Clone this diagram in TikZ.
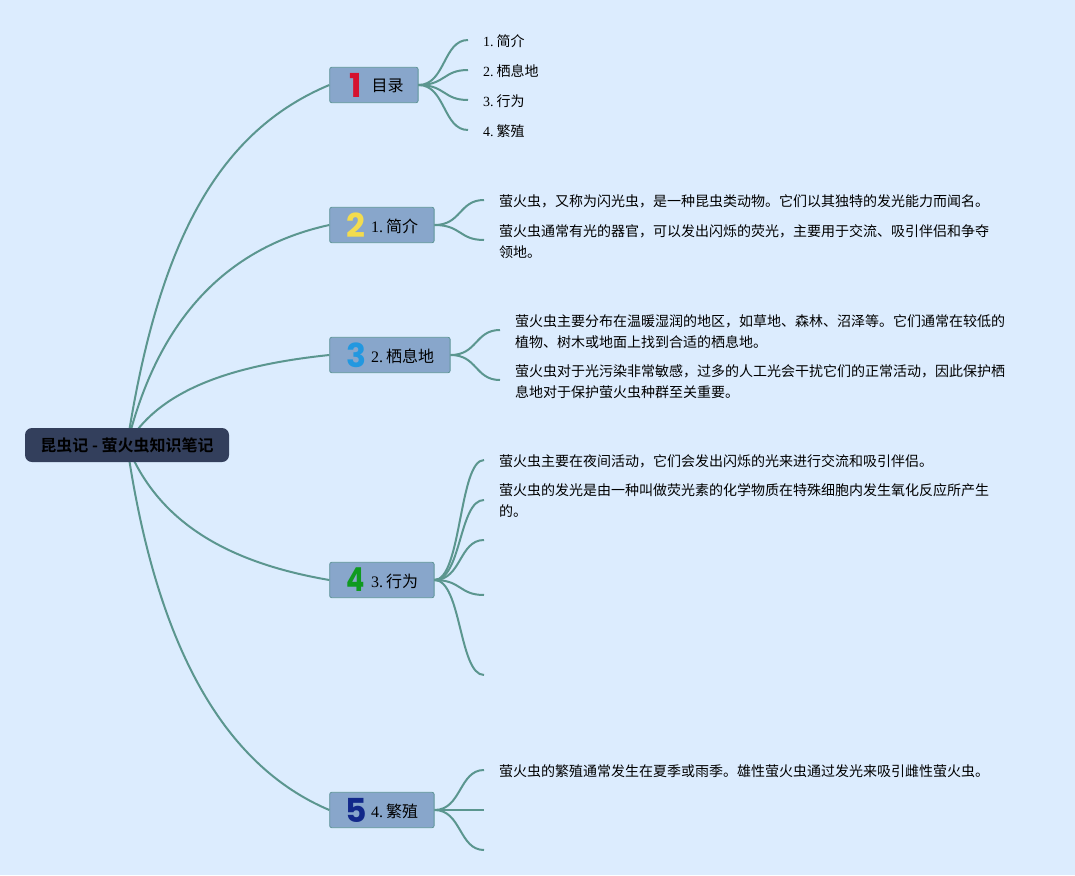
\documentclass[tikz,border=0pt]{standalone}
\usepackage{fontspec}
\usetikzlibrary{calc}
\setmainfont{Liberation Serif}
\newfontfamily\zhf{Noto Sans CJK SC}
\newfontfamily\zhbf{Noto Sans CJK SC}[BoldFont={Noto Sans CJK SC Bold}]
\newfontfamily\iconf{Poppins}
\newcommand{\zh}[1]{{\zhf #1}}
\newcommand{\tsp}{\hspace{3pt}}
\definecolor{bgc}{HTML}{DCECFE}
\definecolor{linec}{HTML}{5B968F}
\definecolor{boxc}{HTML}{88A6CB}
\definecolor{boxl}{HTML}{5F9598}
\definecolor{rootc}{HTML}{333F5C}
\definecolor{ired}{HTML}{D5122F}
\definecolor{iyel}{HTML}{F3DC4E}
\definecolor{iblu}{HTML}{2298E0}
\definecolor{igrn}{HTML}{0F9A1F}
\definecolor{inav}{HTML}{12288A}
\tikzset{
  topicbox/.style={draw=boxl,line width=0.8pt,fill=boxc,rounded corners=2pt,inner sep=0pt,minimum height=35.4pt,anchor=west,text=black,font=\fontsize{16}{20}\selectfont},
  rootbox/.style={fill=rootc,rounded corners=7pt,inner sep=0pt,minimum height=34pt,minimum width=204pt,text=black,font=\fontsize{16}{20}\selectfont\bfseries},
  icontext/.style={inner sep=0pt,font=\fontsize{33}{33}\iconf\bfseries},
  toptext/.style={inner sep=0pt,anchor=west,text=black,font=\fontsize{16}{20}\selectfont},
  leaftext/.style={inner sep=0pt,anchor=west,align=left,text=black,font=\fontsize{14}{21}\selectfont},
  tocitem/.style={inner sep=0pt,anchor=west,text=black,font=\fontsize{14}{21}\selectfont},
  mainline/.style={draw=linec,line width=2pt},
  subline/.style={draw=linec,line width=2pt},
}
\newcommand{\subl}[2]{\draw[subline] (#1.east) .. controls ($(#1.east)+(27,0)$) and ($(#2)+(-25,0)$) .. (#2);}
\begin{document}
\begin{tikzpicture}[x=1pt,y=-1pt]
\useasboundingbox (0,0) rectangle (1075,875);
\fill[bgc] (0,0) rectangle (1075,875);
% positions
\coordinate (rt) at (127,445);
\node[topicbox,minimum width=88.4pt] (n1) at (329.3,85) {};
\node[topicbox,minimum width=104.4pt] (n2) at (329.3,225) {};
\node[topicbox,minimum width=120.4pt] (n3) at (329.3,355) {};
\node[topicbox,minimum width=104.4pt] (n4) at (329.3,580) {};
\node[topicbox,minimum width=104.4pt] (n5) at (329.3,810) {};
% main connectors
\draw[mainline] (rt) .. controls (159,235) and (222,130) .. (n1.west);
\draw[mainline] (rt) .. controls (157,322) and (224,248) .. (n2.west);
\draw[mainline] (rt) .. controls (157,393) and (224,366) .. (n3.west);
\draw[mainline] (rt) .. controls (157,520) and (224,562) .. (n4.west);
\draw[mainline] (rt) .. controls (156,645) and (223,765) .. (n5.west);
\node[rootbox] (root) at (127,445) {\zhbf 昆虫记 - 萤火虫知识笔记};
% leaf ends
\coordinate (a1) at (468,40);
\coordinate (a2) at (468,70);
\coordinate (a3) at (468,100);
\coordinate (a4) at (468,130);
\coordinate (b1) at (484,200);
\coordinate (b2) at (484,240);
\coordinate (c1) at (500,330);
\coordinate (c2) at (500,380);
\coordinate (d1) at (484,460);
\coordinate (d2) at (484,500);
\coordinate (d3) at (484,540);
\coordinate (d4) at (484,595);
\coordinate (d5) at (484,675);
\coordinate (e1) at (484,770);
\coordinate (e2) at (484,810);
\coordinate (e3) at (484,850);
\foreach \t in {a1,a2,a3,a4}{\subl{n1}{\t}}
\foreach \t in {b1,b2}{\subl{n2}{\t}}
\foreach \t in {c1,c2}{\subl{n3}{\t}}
\foreach \t in {d1,d2,d3,d4,d5}{\subl{n4}{\t}}
\foreach \t in {e1,e2,e3}{\subl{n5}{\t}}
% icons
\node[icontext,text=ired] (i1) at (356,85) {1};
\node[icontext,text=iyel] (i2) at (356,225) {2};
\node[icontext,text=iblu] (i3) at (356,355) {3};
\node[icontext,text=igrn,xscale=0.82,transform shape] (i4) at (356,580) {4};
\node[icontext,text=inav] (i5) at (356,810) {5};
% topic text
\node[toptext] (t1) at (371.5,86) {\zh{目录}};
\node[toptext] (t2) at (371,226) {1.\tsp\zh{简介}};
\node[toptext] (t3) at (371,356) {2.\tsp\zh{栖息地}};
\node[toptext] (t4) at (371,581) {3.\tsp\zh{行为}};
\node[toptext] (t5) at (371,811) {4.\tsp\zh{繁殖}};
% toc
\node[tocitem] (l1) at (483,41) {1.\tsp\zh{简介}};
\node[tocitem] (l2) at (483,71) {2.\tsp\zh{栖息地}};
\node[tocitem] (l3) at (483,101) {3.\tsp\zh{行为}};
\node[tocitem] (l4) at (483,131) {4.\tsp\zh{繁殖}};
% paragraphs
\node[leaftext] (p1) at (499,201) {\zh{萤火虫，又称为闪光虫，是一种昆虫类动物。它们以其独特的发光能力而闻名。}};
\node[leaftext] (p2) at (499,241.5) {\zhf 萤火虫通常有光的器官，可以发出闪烁的荧光，主要用于交流、吸引伴侣和争夺\\\zhf 领地。};
\node[leaftext] (p3) at (515,331.5) {\zhf 萤火虫主要分布在温暖湿润的地区，如草地、森林、沼泽等。它们通常在较低的\\\zhf 植物、树木或地面上找到合适的栖息地。};
\node[leaftext] (p4) at (515,381.5) {\zhf 萤火虫对于光污染非常敏感，过多的人工光会干扰它们的正常活动，因此保护栖\\\zhf 息地对于保护萤火虫种群至关重要。};
\node[leaftext] (p5) at (499,461) {\zh{萤火虫主要在夜间活动，它们会发出闪烁的光来进行交流和吸引伴侣。}};
\node[leaftext] (p6) at (499,500.5) {\zhf 萤火虫的发光是由一种叫做荧光素的化学物质在特殊细胞内发生氧化反应所产生\\\zhf 的。};
\node[leaftext] (p7) at (499,771) {\zh{萤火虫的繁殖通常发生在夏季或雨季。雄性萤火虫通过发光来吸引雌性萤火虫。}};
\end{tikzpicture}
\end{document}
